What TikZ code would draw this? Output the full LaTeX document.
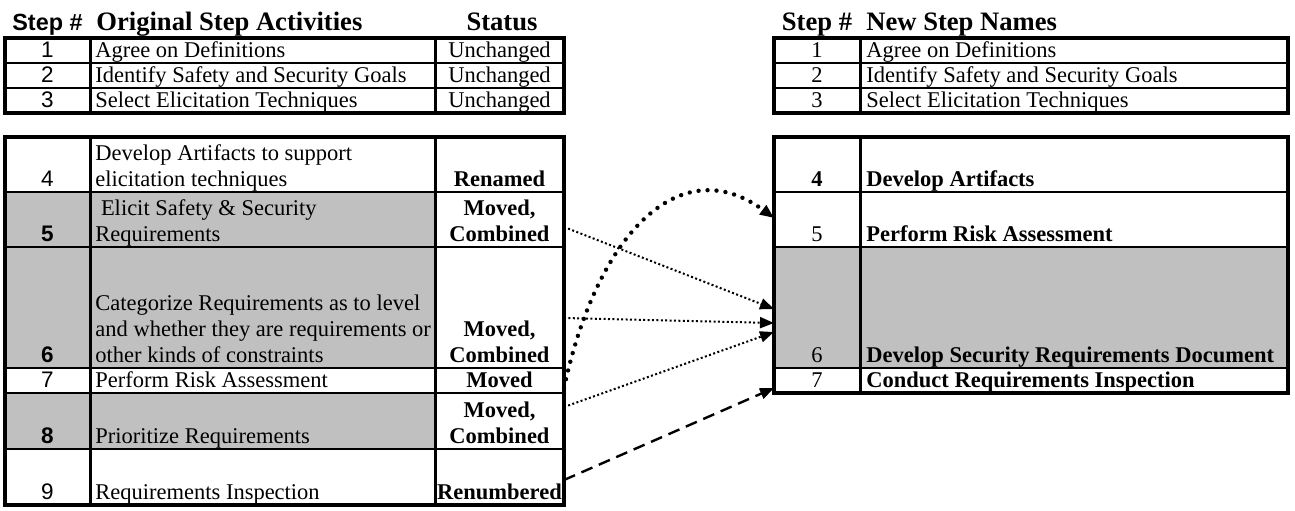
\documentclass[tikz,border=0pt]{standalone}
\usepackage{fontspec}
\setmainfont{Liberation Serif}
\newfontfamily\arialf{Liberation Sans}
\usetikzlibrary{arrows.meta}
\definecolor{cellgray}{HTML}{C0C0C0}
\newcommand{\mkcell}[6]{\node[cellbox,minimum width=#4,minimum height=#5,fill=#6] (#1) at (#2,#3) {};}
\begin{document}
\begin{tikzpicture}[x=0.5pt,y=-0.5pt,
  cellbox/.style={draw,line width=1pt,anchor=north west,inner sep=0pt,outer sep=0pt},
  txt/.style={inner sep=0pt,font=\fontsize{11.25}{13}\selectfont},
  txtl/.style={txt,anchor=base west},
  txtc/.style={txt,anchor=base},
  numl/.style={inner sep=0pt,anchor=base,font=\arialf\fontsize{11.25}{13}\selectfont},
  numlb/.style={inner sep=0pt,anchor=base,font=\arialf\bfseries\fontsize{11.25}{13}\selectfont},
  hdr/.style={inner sep=0pt,font=\bfseries\fontsize{13.3}{15}\selectfont},
  frame/.style={line width=1.7pt},
  coldiv/.style={line width=1.5pt},
  thindot/.style={line width=1pt,dash pattern=on 1pt off 1.2pt,-{Triangle[length=7pt,width=5.5pt]}},
  thickdot/.style={line width=2.2pt,line cap=round,dash pattern=on 0pt off 4.5pt,-{Triangle[length=7pt,width=5.5pt]}},
  dashline/.style={line width=1.2pt,dash pattern=on 6pt off 3.5pt,-{Triangle[length=7pt,width=5.5pt]}}
]
\useasboundingbox (0,0) rectangle (1295,510);

% ---------- headers ----------
\node[inner sep=0pt,anchor=base,font=\arialf\bfseries\fontsize{11.7}{14}\selectfont] (hLn) at (47.5,30) {Step \#};
\node[hdr,anchor=base west] (hLa) at (96,30) {Original Step Activities};
\node[hdr,anchor=base] (hLs) at (502,30) {Status};
\node[hdr,anchor=base] (hRn) at (817,30) {Step \#};
\node[hdr,anchor=base west] (hRa) at (866,30) {New Step Names};

% ---------- left table, top part ----------
\mkcell{L1n}{5}{38}{42.5pt}{12.5pt}{white}
\mkcell{L1a}{90}{38}{172.5pt}{12.5pt}{white}
\mkcell{L1s}{435}{38}{64.5pt}{12.5pt}{white}
\mkcell{L2n}{5}{63}{42.5pt}{12.5pt}{white}
\mkcell{L2a}{90}{63}{172.5pt}{12.5pt}{white}
\mkcell{L2s}{435}{63}{64.5pt}{12.5pt}{white}
\mkcell{L3n}{5}{88}{42.5pt}{12.5pt}{white}
\mkcell{L3a}{90}{88}{172.5pt}{12.5pt}{white}
\mkcell{L3s}{435}{88}{64.5pt}{12.5pt}{white}

% ---------- left table, lower part ----------
\mkcell{L4n}{5}{137}{42.5pt}{27.5pt}{white}
\mkcell{L4a}{90}{137}{172.5pt}{27.5pt}{white}
\mkcell{L4s}{435}{137}{64.5pt}{27.5pt}{white}
\mkcell{L5n}{5}{192}{42.5pt}{27.5pt}{cellgray}
\mkcell{L5a}{90}{192}{172.5pt}{27.5pt}{cellgray}
\mkcell{L5s}{435}{192}{64.5pt}{27.5pt}{white}
\mkcell{L6n}{5}{247}{42.5pt}{60.5pt}{cellgray}
\mkcell{L6a}{90}{247}{172.5pt}{60.5pt}{cellgray}
\mkcell{L6s}{435}{247}{64.5pt}{60.5pt}{white}
\mkcell{L7n}{5}{368}{42.5pt}{12.5pt}{white}
\mkcell{L7a}{90}{368}{172.5pt}{12.5pt}{white}
\mkcell{L7s}{435}{368}{64.5pt}{12.5pt}{white}
\mkcell{L8n}{5}{393}{42.5pt}{28pt}{cellgray}
\mkcell{L8a}{90}{393}{172.5pt}{28pt}{cellgray}
\mkcell{L8s}{435}{393}{64.5pt}{28pt}{white}
\mkcell{L9n}{5}{449}{42.5pt}{28pt}{white}
\mkcell{L9a}{90}{449}{172.5pt}{28pt}{white}
\mkcell{L9s}{435}{449}{64.5pt}{28pt}{white}

% ---------- right table ----------
\mkcell{R1n}{774}{38}{43pt}{12.5pt}{white}
\mkcell{R1a}{860}{38}{214pt}{12.5pt}{white}
\mkcell{R2n}{774}{63}{43pt}{12.5pt}{white}
\mkcell{R2a}{860}{63}{214pt}{12.5pt}{white}
\mkcell{R3n}{774}{88}{43pt}{12.5pt}{white}
\mkcell{R3a}{860}{88}{214pt}{12.5pt}{white}
\mkcell{R4n}{774}{137}{43pt}{27.5pt}{white}
\mkcell{R4a}{860}{137}{214pt}{27.5pt}{white}
\mkcell{R5n}{774}{192}{43pt}{27.5pt}{white}
\mkcell{R5a}{860}{192}{214pt}{27.5pt}{white}
\mkcell{R6n}{774}{247}{43pt}{60.5pt}{cellgray}
\mkcell{R6a}{860}{247}{214pt}{60.5pt}{cellgray}
\mkcell{R7n}{774}{368}{43pt}{12.5pt}{white}
\mkcell{R7a}{860}{368}{214pt}{12.5pt}{white}

% ---------- frames and column dividers ----------
\draw[frame] (L1n.north west) rectangle (L3s.south east);
\draw[frame] (L4n.north west) rectangle (L9s.south east);
\draw[frame] (R1n.north west) rectangle (R3a.south east);
\draw[frame] (R4n.north west) rectangle (R7a.south east);
\draw[coldiv] (L1a.north west) -- (L3a.south west);
\draw[coldiv] (L1s.north west) -- (L3s.south west);
\draw[coldiv] (L4a.north west) -- (L9a.south west);
\draw[coldiv] (L4s.north west) -- (L9s.south west);
\draw[coldiv] (R1a.north west) -- (R3a.south west);
\draw[coldiv] (R4a.north west) -- (R7a.south west);

% ---------- left table texts ----------
\node[numl] (tL1n) at ([yshift=3pt]L1n.south) {1};
\node[txtl] (tL1a) at ([xshift=2.5pt,yshift=3pt]L1a.south west) {Agree on Definitions};
\node[txtc] (tL1s) at ([yshift=3pt]L1s.south) {Unchanged};
\node[numl] (tL2n) at ([yshift=3pt]L2n.south) {2};
\node[txtl] (tL2a) at ([xshift=2.5pt,yshift=3pt]L2a.south west) {Identify Safety and Security Goals};
\node[txtc] (tL2s) at ([yshift=3pt]L2s.south) {Unchanged};
\node[numl] (tL3n) at ([yshift=3pt]L3n.south) {3};
\node[txtl] (tL3a) at ([xshift=2.5pt,yshift=3pt]L3a.south west) {Select Elicitation Techniques};
\node[txtc] (tL3s) at ([yshift=3pt]L3s.south) {Unchanged};

\node[numl] (tL4n) at ([yshift=3pt]L4n.south) {4};
\node[txtl] (tL4a1) at ([xshift=2.5pt,yshift=16pt]L4a.south west) {Develop Artifacts to support};
\node[txtl] (tL4a2) at ([xshift=2.5pt,yshift=3pt]L4a.south west) {elicitation techniques};
\node[txtc] (tL4s) at ([yshift=3pt]L4s.south) {\bfseries Renamed};

\node[numlb] (tL5n) at ([yshift=3pt]L5n.south) {5};
\node[txtl] (tL5a1) at ([xshift=5.3pt,yshift=16pt]L5a.south west) {Elicit Safety \& Security};
\node[txtl] (tL5a2) at ([xshift=2.5pt,yshift=3pt]L5a.south west) {Requirements};
\node[txtc] (tL5s1) at ([yshift=16pt]L5s.south) {\bfseries Moved,};
\node[txtc] (tL5s2) at ([yshift=3pt]L5s.south) {\bfseries Combined};

\node[numlb] (tL6n) at ([yshift=3pt]L6n.south) {6};
\node[txtl] (tL6a1) at ([xshift=2.5pt,yshift=29pt]L6a.south west) {Categorize Requirements as to level};
\node[txtl] (tL6a2) at ([xshift=2.5pt,yshift=16pt]L6a.south west) {and whether they are requirements or};
\node[txtl] (tL6a3) at ([xshift=2.5pt,yshift=3pt]L6a.south west) {other kinds of constraints};
\node[txtc] (tL6s1) at ([yshift=16pt]L6s.south) {\bfseries Moved,};
\node[txtc] (tL6s2) at ([yshift=3pt]L6s.south) {\bfseries Combined};

\node[numl] (tL7n) at ([yshift=3pt]L7n.south) {7};
\node[txtl] (tL7a) at ([xshift=2.5pt,yshift=3pt]L7a.south west) {Perform Risk Assessment};
\node[txtc] (tL7s) at ([yshift=3pt]L7s.south) {\bfseries Moved};

\node[numlb] (tL8n) at ([yshift=3pt]L8n.south) {8};
\node[txtl] (tL8a) at ([xshift=2.5pt,yshift=3pt]L8a.south west) {Prioritize Requirements};
\node[txtc] (tL8s1) at ([yshift=16pt]L8s.south) {\bfseries Moved,};
\node[txtc] (tL8s2) at ([yshift=3pt]L8s.south) {\bfseries Combined};

\node[numl] (tL9n) at ([yshift=3pt]L9n.south) {9};
\node[txtl] (tL9a) at ([xshift=2.5pt,yshift=3pt]L9a.south west) {Requirements Inspection};
\node[txtc] (tL9s) at ([yshift=3pt]L9s.south) {\bfseries Renumbered};

% ---------- right table texts ----------
\node[txtc] (tR1n) at ([yshift=3pt]R1n.south) {1};
\node[txtl] (tR1a) at ([xshift=3pt,yshift=3pt]R1a.south west) {Agree on Definitions};
\node[txtc] (tR2n) at ([yshift=3pt]R2n.south) {2};
\node[txtl] (tR2a) at ([xshift=3pt,yshift=3pt]R2a.south west) {Identify Safety and Security Goals};
\node[txtc] (tR3n) at ([yshift=3pt]R3n.south) {3};
\node[txtl] (tR3a) at ([xshift=3pt,yshift=3pt]R3a.south west) {Select Elicitation Techniques};
\node[txtc] (tR4n) at ([yshift=3pt]R4n.south) {\bfseries 4};
\node[txtl] (tR4a) at ([xshift=3pt,yshift=3pt]R4a.south west) {\bfseries Develop Artifacts};
\node[txtc] (tR5n) at ([yshift=3pt]R5n.south) {5};
\node[txtl] (tR5a) at ([xshift=3pt,yshift=3pt]R5a.south west) {\bfseries Perform Risk Assessment};
\node[txtc] (tR6n) at ([yshift=3pt]R6n.south) {6};
\node[txtl] (tR6a) at ([xshift=3pt,yshift=3pt]R6a.south west) {\bfseries Develop Security Requirements Document};
\node[txtc] (tR7n) at ([yshift=3pt]R7n.south) {7};
\node[txtl] (tR7a) at ([xshift=3pt,yshift=3pt]R7a.south west) {\bfseries Conduct Requirements Inspection};

% ---------- connectors ----------
\draw[thindot] ([yshift=-3.75pt]L5s.east) -- ([yshift=-0.75pt]R6n.west);
\draw[thindot] ([yshift=-5.25pt]L6s.east) -- ([yshift=-7.75pt]R6n.west);
\draw[thindot] ([yshift=7pt]L8s.east) -- ([yshift=-12.25pt]R6n.west);
\draw[dashline] ([yshift=-1.5pt]L9s.east) -- ([yshift=-3.75pt]R7n.west);
\draw[thickdot] ([yshift=-3.75pt]L7s.east) .. controls +(34,-158) and +(-92,-68) .. ([yshift=0.75pt]R5n.west);
\end{tikzpicture}
\end{document}
